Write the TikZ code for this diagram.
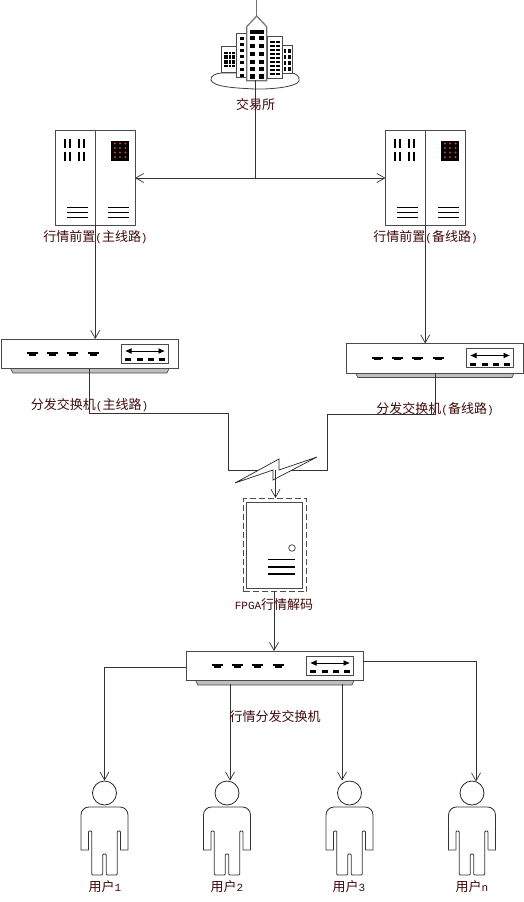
\documentclass[tikz,border=0pt]{standalone}
\usepackage{fontspec}
\usetikzlibrary{arrows.meta}
\newfontfamily\cjk{Noto Sans CJK SC}
\newfontfamily\lat{Liberation Mono}
\definecolor{lab}{HTML}{3F0A0A}
\definecolor{edge}{HTML}{4A4A4A}
\definecolor{dot}{HTML}{C8402A}
\tikzset{
 x=1pt,y=-1pt,
 line width=0.75pt,
 conn/.style={draw=black!80,line width=0.7pt},
 arr/.style={conn,-{Straight Barb[length=8pt,width=9pt,line width=0.7pt]}},
 arrboth/.style={conn,{Straight Barb[length=8pt,width=9pt,line width=0.7pt]}-{Straight Barb[length=8pt,width=9pt,line width=0.7pt]}},
 box/.style={draw=edge,fill=white,line width=1pt,inner sep=0pt,outer sep=0pt,rectangle},
 lbl/.style={text=lab,inner sep=0pt,font=\fontsize{13}{14}\selectfont\cjk},
 thick3/.style={draw=black,line width=1.2pt},
}
\newcommand{\La}[1]{{\fontsize{11}{13}\selectfont\lat #1}}
% server: name, left x, top y
\newcommand{\server}[3]{%
 \begin{scope}[shift={(#2,#3)}]
 \node[box,minimum width=79.5pt,minimum height=94.5pt,anchor=north west] (#1) at (0,0) {};
 \draw[draw=edge,line width=1pt] (39.7,0) -- (39.7,94.5);
 \foreach \xx in {9.5,14.5,23.5,28.5}{\foreach \yy in {8.5,21.5}{\fill (\xx-1,\yy) rectangle (\xx+1,\yy+8.5);}}
 \foreach \yy in {77,82,87}{\draw[thick3] (11.5,\yy) -- (32.5,\yy); \draw[thick3] (52.5,\yy) -- (73.5,\yy);}
 \fill (55.5,10) rectangle (73.5,30);
 \foreach \xx in {59.5,64.5,70}{\foreach \yy in {13,17.5,22,26.5}{\fill[dot] (\xx,\yy) circle (1.1);}}
 \end{scope}}
% switch: name, left x, top y
\newcommand{\switchbox}[3]{%
 \begin{scope}[shift={(#2,#3)}]
 \draw[draw=edge,fill=black!25,line width=0.7pt] (9.5,29.5) -- (12,34) -- (166,34) -- (168,29.5) -- cycle;
 \node[box,minimum width=177pt,minimum height=29.5pt,anchor=north west] (#1) at (0,0) {};
 \foreach \xx in {26,46,66,86.5}{\fill (\xx,13) rectangle (\xx+11,15); \fill (\xx+2,15) rectangle (\xx+9,16.5);}
 \draw[draw=edge,line width=1pt] (120,5) rectangle (167,24);
 \draw[line width=0.9pt,{Latex[length=6.5pt,width=6pt]}-{Latex[length=6.5pt,width=6pt]}] (124,12) -- (164,12);
 \foreach \xx in {124,136,146.5,158}{\fill (\xx,19.2) rectangle (\xx+6,22.2);}
 \end{scope}}
% person: name, centre x
\newcommand{\person}[2]{%
 \begin{scope}[shift={(#2,0)}]
 \node[draw=black!85,fill=white,circle,minimum size=24pt,inner sep=0pt,line width=0.8pt] (#1) at (0,793) {};
 \draw[draw=black!80,line width=0.85pt,rounded corners=1pt]
   (-16,850) -- (-16,831) -- (-12.7,831) -- (-12.7,875) -- (-1.7,875) -- (-1.7,854) -- (1.7,854) -- (1.7,875) -- (12.7,875) -- (12.7,831) -- (16,831) -- (16,850);
 \draw[draw=black!80,line width=0.85pt,rounded corners=8pt]
   (-16,850) [sharp corners] -- (-23.5,850) [rounded corners=8pt] -- (-23.5,807) -- (23.5,807) [sharp corners] -- (23.5,850) -- (16,850);
 \end{scope}}
\begin{document}
\begin{tikzpicture}
\useasboundingbox (0,0) rectangle (524,902);

% building
\coordinate (bldBottom) at (255.5,80);
\coordinate (bldJunction) at (255.5,178);
\draw[draw=black!75,line width=0.8pt,fill=white] (211,80) .. controls (210,76) and (216,73) .. (222,73) -- (290,73) .. controls (296,73) and (300,76) .. (299,81) .. controls (297,87) and (270,89.5) .. (255,89) .. controls (235,88) and (213,87) .. (211,80) -- cycle;
\draw[draw=black!55,line width=1.2pt] (256.7,0) -- (256.7,16);
\draw[box] (221.2,46.5) rectangle (236.7,72.7);
\fill (224,51.5) rectangle (235,66.5);
\foreach \yy in {54,59,64}{\fill[white] (224,\yy) rectangle (235,\yy+.8);}
\foreach \xx in {227.5,231.2}{\fill[white] (\xx,51.5) rectangle (\xx+.8,66.5);}
\draw[box] (282,45.5) rectangle (292,73);
\foreach \xx in {283.5,288}{\foreach \yy in {49,55,61,67}{\fill (\xx,\yy) rectangle (\xx+2.8,\yy+4);}}
\draw[box] (236.7,33) rectangle (246.7,77);
\foreach \yy in {37,43,49,55,61,68,74}{\fill (240,\yy) rectangle (244,\yy+3);}
\draw[box] (267,36.7) rectangle (282,78);
\foreach \yy in {41,45,49,53,57,61,65,69,73}{\fill (269.5,\yy) rectangle (274.5,\yy+1.8); \fill (275.5,\yy) rectangle (280,\yy+1.8);}
\draw[draw=black!55,line width=1.2pt,fill=white] (246.7,80.7) -- (246.7,26.7) -- (256.7,16) -- (266.7,26.7) -- (266.7,80.7) -- cycle;
\fill (250,30) rectangle (264,33.5);
\foreach \yy in {35.5,43.5,51.5,59.5,66.5,74}{\fill (250,\yy) rectangle (255,\yy+4.8); \fill (258.5,\yy) rectangle (264,\yy+4.8);}

% devices
\server{srvL}{55.5}{130.5}
\server{srvR}{385.5}{130.5}
\switchbox{swL}{1}{339}
\switchbox{swR}{346}{343.5}
\switchbox{swM}{186}{651}

% decoder
\node[draw=black!70,dashed,dash pattern=on 6pt off 3pt,line width=1pt,minimum width=63pt,minimum height=93pt,inner sep=0pt,anchor=north west] (fpgaOuter) at (243,498) {};
\node[box,minimum width=56.5pt,minimum height=86pt,anchor=north west] (fpga) at (246,502) {};
\draw[draw=black!80,line width=0.7pt] (292,548) circle (3.3);
\foreach \yy in {559.5,567,574}{\draw[thick3] (267.5,\yy) -- (295,\yy);}

% persons
\person{u1}{104.5}
\person{u2}{227}
\person{u3}{349.5}
\person{u4}{472}

% connector anchors
\coordinate (srvLport) at (135,178);
\coordinate (srvRport) at (385.5,178);
\coordinate (srvLout) at (95.2,225);
\coordinate (srvRout) at (425.2,225);
\coordinate (swLin) at (95.2,339);
\coordinate (swRin) at (425.2,343.5);
\coordinate (swLout) at (89,369);
\coordinate (swRout) at (435,373);
\coordinate (wanL) at (273,470);
\coordinate (wanR) at (279,470);
\coordinate (wanC) at (275.5,470);
\coordinate (fpgaIn) at (275.5,498);
\coordinate (fpgaOut) at (274,591);
\coordinate (swMin) at (274,651);
\coordinate (swMl) at (186,667);
\coordinate (swMr) at (363,661);
\coordinate (swMa) at (230,684);
\coordinate (swMb) at (342,684);
\coordinate (u4in) at (476,781.5);

% connectors
\draw[conn] (bldBottom) -- (bldJunction);
\draw[arrboth] (srvLport) -- (srvRport);
\draw[arr] (srvLout) -- (swLin);
\draw[arr] (srvRout) -- (swRin);
\draw[conn] (swLout) |- (228,413) |- (wanL);
\draw[conn] (swRout) |- (327,414) |- (wanR);
\draw[draw=black!85,line width=0.7pt,fill=white] (235,483) -- (279,459) -- (279,470) -- (317,457) -- (273,480) -- (273,470) -- cycle;
\draw[arr] (wanC) -- (fpgaIn);
\draw[arr] (fpgaOut) -- (swMin);
\draw[arr] (swMl) -| (u1.north);
\draw[arr] (swMa) -- (u2.north -| swMa);
\draw[arr] (swMb) -- (u3.north -| swMb);
\draw[arr] (swMr) -| (u4in);

% labels
\node[lbl] (t0) at (255.5,105) {交易所};
\node[lbl] (t1) at (95.5,237) {行情前置\La{(}主线路\La{)}};
\node[lbl] (t2) at (425.5,237) {行情前置\La{(}备线路\La{)}};
\node[lbl] (t3) at (89.5,405) {分发交换机\La{(}主线路\La{)}};
\node[lbl] (t4) at (435,409) {分发交换机\La{(}备线路\La{)}};
\node[lbl] (t5) at (274,605) {\La{FPGA}行情解码};
\node[lbl] (t6) at (275,717) {行情分发交换机};
\node[lbl] (t7) at (105,887) {用户\La{1}};
\node[lbl] (t8) at (227,887) {用户\La{2}};
\node[lbl] (t9) at (349,887) {用户\La{3}};
\node[lbl] (t10) at (472,887) {用户\La{n}};
\end{tikzpicture}
\end{document}
